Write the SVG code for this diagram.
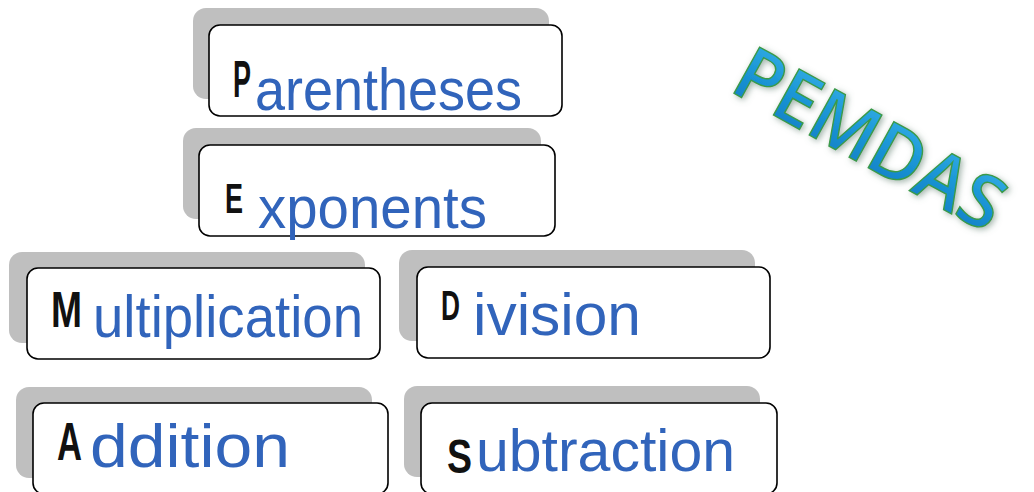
<svg xmlns="http://www.w3.org/2000/svg" width="1034" height="492" viewBox="0 0 1034 492">
<style>
.sh{fill:#bfbfbf}
.bx{fill:#fff;stroke:#000;stroke-width:1.6}
.lbl{font-family:"Liberation Sans",Arial,sans-serif}
.ini{font-weight:bold;fill:#111}
.rest{fill:#3164bb}
.title{font-family:"Open Sans","Liberation Sans",sans-serif;font-size:74px;font-weight:600;fill:url(#tg);stroke:#3a9a48;stroke-width:1.4}
</style>
<defs>
<linearGradient id="tg" x1="0" y1="0" x2="0" y2="1">
<stop offset="0" stop-color="#40b8ec"/>
<stop offset="0.5" stop-color="#1b96d6"/>
<stop offset="1" stop-color="#0e78c0"/>
</linearGradient>
<filter id="glow" x="-20%" y="-20%" width="140%" height="140%">
<feGaussianBlur in="SourceAlpha" stdDeviation="3" result="b"/>
<feOffset dx="2" dy="2" in="b" result="o"/>
<feFlood flood-color="#5a7a6a" flood-opacity="0.55"/>
<feComposite in2="o" operator="in" result="s"/>
<feMerge><feMergeNode in="s"/><feMergeNode in="SourceGraphic"/></feMerge>
</filter>
</defs>

<g id="node-parentheses">
<rect class="sh" x="193" y="8" width="356" height="91" rx="13"/>
<rect class="bx" x="209" y="25" width="353" height="91" rx="11"/>
<text class="lbl"><tspan class="ini" x="233" y="97" font-size="52" textLength="18" lengthAdjust="spacingAndGlyphs">P</tspan><tspan class="rest" x="255" y="110" font-size="60" textLength="267" lengthAdjust="spacingAndGlyphs">arentheses</tspan></text>
</g>

<g id="node-exponents">
<rect class="sh" x="183" y="128" width="358" height="91" rx="13"/>
<rect class="bx" x="199" y="145" width="356" height="91" rx="11"/>
<text class="lbl"><tspan class="ini" x="225" y="213" font-size="42" textLength="18" lengthAdjust="spacingAndGlyphs">E</tspan><tspan class="rest" x="258" y="228" font-size="60" textLength="229" lengthAdjust="spacingAndGlyphs">xponents</tspan></text>
</g>

<g id="node-multiplication">
<rect class="sh" x="9" y="252" width="356" height="91" rx="13"/>
<rect class="bx" x="27" y="268" width="353" height="91" rx="11"/>
<text class="lbl"><tspan class="ini" x="51" y="327" font-size="50" textLength="31" lengthAdjust="spacingAndGlyphs">M</tspan><tspan class="rest" x="93" y="337" font-size="60" textLength="270" lengthAdjust="spacingAndGlyphs">ultiplication</tspan></text>
</g>

<g id="node-division">
<rect class="sh" x="399" y="250" width="356" height="91" rx="13"/>
<rect class="bx" x="417" y="267" width="353" height="91" rx="11"/>
<text class="lbl"><tspan class="ini" x="441" y="320" font-size="42" textLength="19" lengthAdjust="spacingAndGlyphs">D</tspan><tspan class="rest" x="473" y="335" font-size="60" textLength="168" lengthAdjust="spacingAndGlyphs">ivision</tspan></text>
</g>

<g id="node-addition">
<rect class="sh" x="16" y="387" width="356" height="91" rx="13"/>
<rect class="bx" x="33" y="403" width="355" height="91" rx="11"/>
<text class="lbl"><tspan class="ini" x="57" y="460" font-size="54" textLength="25" lengthAdjust="spacingAndGlyphs">A</tspan><tspan class="rest" x="90" y="467" font-size="62" textLength="200" lengthAdjust="spacingAndGlyphs">ddition</tspan></text>
</g>

<g id="node-subtraction">
<rect class="sh" x="404" y="386" width="356" height="91" rx="13"/>
<rect class="bx" x="421" y="403" width="356" height="91" rx="11"/>
<text class="lbl"><tspan class="ini" x="447" y="473" font-size="48" textLength="25" lengthAdjust="spacingAndGlyphs">S</tspan><tspan class="rest" x="476" y="471" font-size="60" textLength="259" lengthAdjust="spacingAndGlyphs">ubtraction</tspan></text>
</g>

<g id="title" filter="url(#glow)">
<text class="title" x="0" y="0" transform="translate(728,90) rotate(29)" textLength="296" lengthAdjust="spacingAndGlyphs">PEMDAS</text>
</g>
</svg>
